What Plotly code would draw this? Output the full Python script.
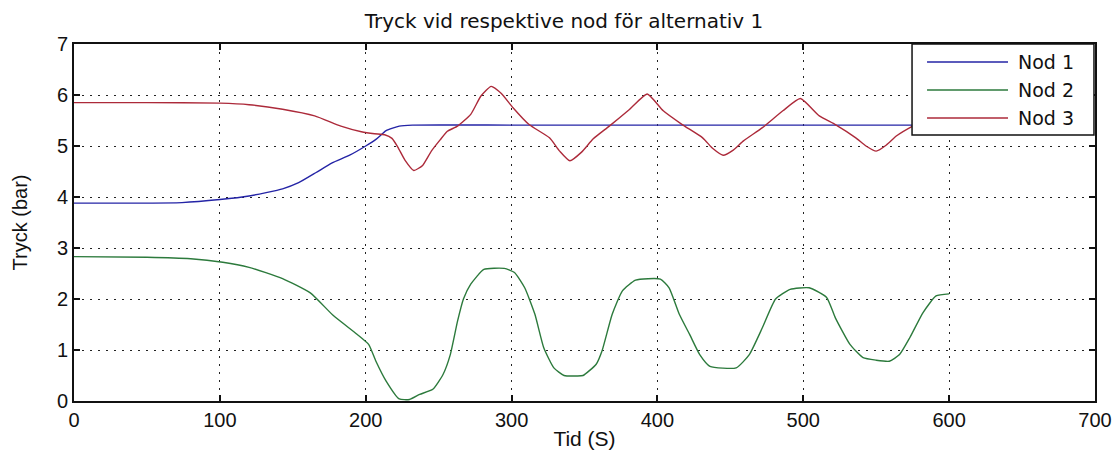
import plotly.graph_objects as go

# Time axis (s) and pressures (bar)
nod1_t = [0, 40, 74, 100, 120, 143, 154, 166, 177, 189, 200, 207, 214, 223, 232, 300, 400, 500, 600]
nod1_p = [3.88, 3.88, 3.89, 3.95, 4.02, 4.16, 4.28, 4.48, 4.67, 4.82, 5.0, 5.13, 5.3, 5.39, 5.41, 5.41, 5.41, 5.41, 5.41]

nod2_t = [0, 50, 80, 102, 120, 143, 162, 178, 194, 202, 207, 214, 223, 230, 237, 246, 253, 258, 263, 267,
          272, 281, 295, 302, 309, 316, 322, 329, 336, 345, 349, 358, 362, 369, 376, 385, 402, 408, 415, 422,
          429, 436, 454, 463, 472, 481, 491, 504, 516, 522, 532, 541, 550, 559, 566, 573, 582, 591, 600]
nod2_p = [2.83, 2.82, 2.79, 2.72, 2.62, 2.4, 2.12, 1.67, 1.31, 1.11, 0.78, 0.39, 0.04, 0.03, 0.13, 0.23, 0.52, 0.91, 1.57, 2.0,
          2.29, 2.58, 2.6, 2.52, 2.22, 1.7, 1.05, 0.65, 0.5, 0.49, 0.5, 0.72, 0.98, 1.7, 2.16, 2.37, 2.39, 2.22, 1.7, 1.31,
          0.91, 0.68, 0.65, 0.91, 1.44, 2.0, 2.19, 2.22, 2.03, 1.63, 1.11, 0.85, 0.8, 0.78, 0.91, 1.24, 1.73, 2.06, 2.1]

nod3_t = [0, 50, 100, 120, 143, 165, 183, 197, 206, 213, 218, 222, 227, 233, 239, 245, 251, 256, 263, 272,
          279, 286, 293, 301, 312, 326, 333, 340, 348, 356, 367, 381, 393, 404, 417, 431, 438, 445, 452, 459,
          472, 486, 498, 511, 522, 536, 543, 550, 557, 564, 575, 590, 600]
nod3_p = [5.85, 5.85, 5.84, 5.81, 5.72, 5.59, 5.39, 5.28, 5.24, 5.22, 5.15, 4.98, 4.72, 4.52, 4.62, 4.9, 5.12, 5.29, 5.39, 5.62,
          5.98, 6.17, 6.03, 5.75, 5.42, 5.16, 4.9, 4.71, 4.88, 5.14, 5.39, 5.72, 6.02, 5.69, 5.42, 5.16, 4.95, 4.82, 4.92, 5.1,
          5.36, 5.69, 5.93, 5.59, 5.42, 5.16, 5.0, 4.9, 5.02, 5.2, 5.39, 5.6, 5.7]

series_names = ["Nod 1", "Nod 2", "Nod 3"]
series_colors = ["#2424a6", "#2c7a3c", "#ac2a3a"]

x_ticks = [0, 100, 200, 300, 400, 500, 600, 700]
y_ticks = [0, 1, 2, 3, 4, 5, 6, 7]

font = "Liberation Sans, Arial, sans-serif"
wide_font = "DejaVu Sans, Verdana, sans-serif"

fig = go.Figure()
for t, p, name, color in zip([nod1_t, nod2_t, nod3_t], [nod1_p, nod2_p, nod3_p], series_names, series_colors):
    fig.add_trace(go.Scatter(x=t, y=p, mode="lines", name=name, showlegend=False,
                             line=dict(color=color, width=1.4, shape="spline", smoothing=0.5)))

axis_common = dict(showline=True, linecolor="#111", linewidth=1.8, mirror="ticks",
                   ticks="inside", ticklen=6, tickcolor="#111", tickwidth=1.5,
                   showgrid=True, gridcolor="#222", griddash="2px,6px", gridwidth=1.3,
                   zeroline=False, automargin=False,
                   tickfont=dict(family=font, size=20, color="#111"))

# Legend box (drawn in paper coordinates, like the MATLAB legend)
shapes = [dict(type="rect", xref="paper", yref="paper", x0=0.8208, x1=0.999, y0=0.745, y1=1.0,
               fillcolor="white", line=dict(color="#111", width=1.5), layer="above")]
annotations = []
row_y = [0.9496, 0.8711, 0.7927]
for ry, name, color in zip(row_y, series_names, series_colors):
    shapes.append(dict(type="line", xref="paper", yref="paper", x0=0.8355, x1=0.9148, y0=ry, y1=ry,
                       line=dict(color=color, width=1.5), layer="above"))
    annotations.append(dict(text=name, xref="paper", yref="paper", x=0.9226, y=ry, xanchor="left",
                            yanchor="middle", showarrow=False,
                            font=dict(family=wide_font, size=19, color="#111")))

# The page body adds an 8px margin; the figure is sized so the plot area lands where the reference has it.
fig.update_layout(
    width=1112, height=447,
    paper_bgcolor="white", plot_bgcolor="white",
    margin=dict(l=66, r=25, t=36, b=54),
    title=dict(text="Tryck vid respektive nod för alternativ 1", x=0.5, xanchor="center",
               y=0.97, yanchor="middle", font=dict(family=wide_font, size=20, color="#111")),
    xaxis=dict(range=[0, 700], tickvals=x_ticks,
               title=dict(text="Tid (S)", font=dict(family=font, size=21, color="#111"), standoff=1),
               **axis_common),
    yaxis=dict(range=[0, 7], tickvals=y_ticks,
               title=dict(text="Tryck (bar)", font=dict(family=font, size=20, color="#111"), standoff=24),
               **axis_common),
    shapes=shapes,
    annotations=annotations,
    showlegend=False,
)

fig.write_html("out.html")
